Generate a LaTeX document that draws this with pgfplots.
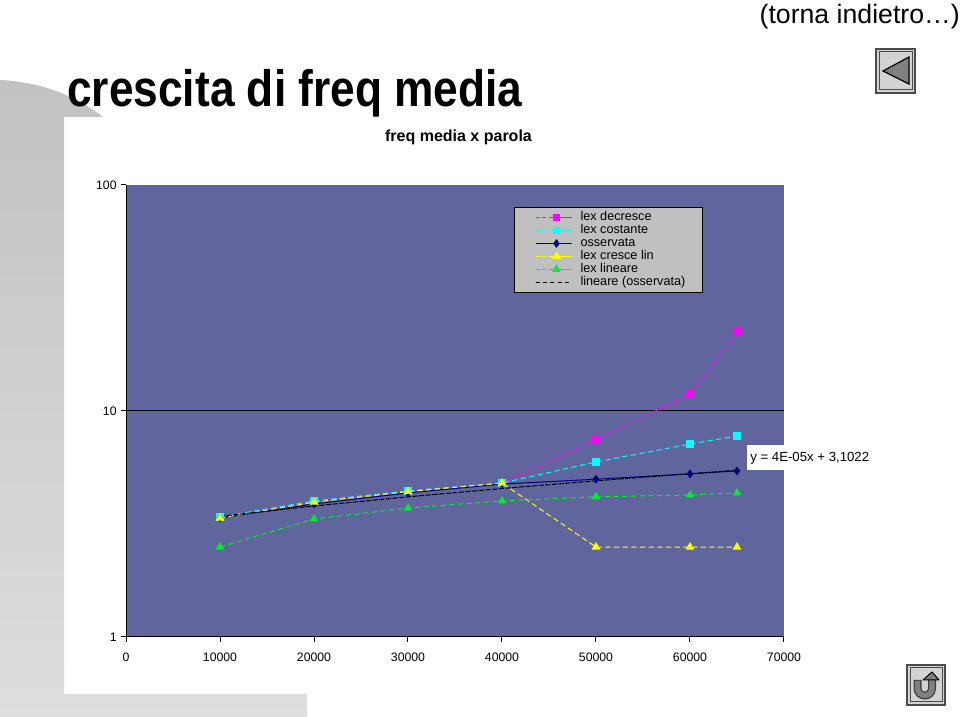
\documentclass[border=0pt]{standalone}
\usepackage{graphicx}
\usepackage{fontspec}
\setmainfont{Liberation Sans}
\usepackage{pgfplots}
\pgfplotsset{compat=1.18}
\definecolor{plotbg}{RGB}{96,101,158}
\definecolor{lgray}{RGB}{192,192,192}
\definecolor{cmag}{RGB}{255,0,255}
\definecolor{ccya}{RGB}{0,255,255}
\definecolor{cnav}{RGB}{0,0,128}
\definecolor{cyel}{RGB}{255,255,0}
\definecolor{cgre}{RGB}{0,235,50}
\pgfplotsset{
  lg/.style={legend image code/.code={
    \path[draw=none] (0pt,0pt)--(36.75pt,0pt);
    \draw[draw=#1,line width=0.85pt,dash pattern=on 3pt off 2pt] (3pt,0pt)--(16pt,0pt);
    \draw[draw=#1,line width=0.85pt,solid] (16pt,0pt)--(30.5pt,0pt);
    \draw[##1,solid,only marks] plot coordinates {(18.75pt,0pt)};
  }},
  lgsolid/.style={legend image code/.code={
    \path[draw=none] (0pt,0pt)--(36.75pt,0pt);
    \draw[draw=#1,line width=0.85pt,solid] (3pt,0pt)--(30.5pt,0pt);
    \draw[##1,solid,only marks] plot coordinates {(18.75pt,0pt)};
  }},
  lgdash/.style={legend image code/.code={
    \path[draw=none] (0pt,0pt)--(36.75pt,0pt);
    \draw[draw=#1,line width=0.75pt,dash pattern=on 3pt off 2.6pt] (3pt,0pt)--(30.5pt,0pt);
  }},
}
\begin{document}
\begin{tikzpicture}
\useasboundingbox (0,0) rectangle (720pt,537.75pt);
\begin{scope}[x=0.75pt,y=-0.75pt,shift={(0pt,537.75pt)}]
\shade[top color=black!24,bottom color=black!13,draw=none]
  (0,80) .. controls (40,82) and (75,95) .. (103,117) -- (64,117) -- (64,694) -- (307,694) -- (307,717) -- (0,717) -- cycle;
\end{scope}
\begin{axis}[
  at={(94.5pt,60pt)}, anchor=south west,
  scale only axis, width=493.5pt, height=339pt,
  ymode=log, xmin=0, xmax=70000, ymin=1, ymax=100,
  axis background/.style={fill=plotbg},
  axis x line*=bottom, axis y line*=left,
  axis line style={black,line width=0.75pt,-},
  tick style={black,line width=0.75pt},
  tick align=outside, major tick length=3.5pt,
  scaled x ticks=false,
  xtick={0,10000,20000,30000,40000,50000,60000,70000},
  xticklabels={0,10000,20000,30000,40000,50000,60000,70000},
  ytick={1,10,100}, yticklabels={1,10,100},
  minor y tick num=0, yminorticks=false,
  extra y ticks={10}, extra y tick labels={},
  extra y tick style={ymajorgrids=true,major grid style={black,line width=0.75pt}},
  tick label style={font=\fontsize{9.2pt}{10pt}\selectfont,/pgf/number format/assume math mode=true},
  xticklabel style={yshift=-5pt},
  clip=false,
  every axis plot/.append style={line width=0.75pt,dash pattern=on 4pt off 2.5pt},
  legend cell align=left,
  legend style={at={(axis description cs:0.5897,0.9513)},anchor=north west,
    fill=lgray,draw=black,line width=0.75pt,
    font=\fontsize{9.5pt}{10.5pt}\selectfont,
    inner xsep=12.75pt,inner ysep=2.6pt,
    nodes={inner sep=0pt,anchor=west,text height=7.25pt,text depth=2.5pt}},
]
\addplot[lg=cmag,color=cmag,mark=square*,mark size=2.5pt,mark options={solid,fill=cmag,draw=cmag}] coordinates {(10000,3.4)(20000,4.0)(30000,4.43)(40000,4.8)(50000,7.44)(60000,11.9)(65000,22.3)};
\addlegendentry{lex decresce}
\addplot[lg=ccya,color=ccya,mark=square*,mark size=2.5pt,mark options={solid,fill=ccya,draw=ccya}] coordinates {(10000,3.4)(20000,4.0)(30000,4.43)(40000,4.8)(50000,5.95)(60000,7.14)(65000,7.75)};
\addlegendentry{lex costante}
\addplot[lgsolid=cnav,color=cnav,solid,mark=diamond*,mark size=2.7pt,mark options={solid,fill=cnav}] coordinates {(10000,3.36)(20000,3.88)(30000,4.34)(40000,4.75)(50000,4.99)(60000,5.27)(65000,5.43)};
\addlegendentry{osservata}
\addplot[lg=cyel,color=cyel,mark=triangle*,mark size=3pt,mark options={solid,fill=cyel,draw=cyel}] coordinates {(10000,3.36)(20000,3.95)(30000,4.4)(40000,4.8)(50000,2.5)(60000,2.5)(65000,2.5)};
\addlegendentry{lex cresce lin}
\addplot[lg=cgre,color=cgre,mark=triangle*,mark size=3pt,mark options={solid,fill=cgre,draw=cgre}] coordinates {(10000,2.5)(20000,3.33)(30000,3.72)(40000,4.0)(50000,4.17)(60000,4.25)(65000,4.34)};
\addlegendentry{lex lineare}
\addplot[lgdash=black,black,mark=none,dash pattern=on 4pt off 1pt] coordinates {(10000,3.42)(20000,3.8)(30000,4.17)(40000,4.54)(50000,4.91)(60000,5.28)(65000,5.47)};
\addlegendentry{lineare (osservata)}
\end{axis}
\begin{scope}[x=0.75pt,y=-0.75pt,shift={(0pt,537.75pt)}]
\fill[white] (747,445) rectangle (784,470);
\node[anchor=base west,inner sep=0pt] at (750,461.5) {\fontsize{9.9pt}{11pt}\selectfont y = 4E-05x + 3,1022};
\node[anchor=base,inner sep=0pt] at (458.5,142) {\fontsize{12pt}{13pt}\selectfont\bfseries freq media x parola};
\node[anchor=base west,inner sep=0pt] at (67,106.5) {\scalebox{0.865}[1]{\fontsize{38.4pt}{42pt}\selectfont\bfseries crescita di freq media}};
\node[anchor=base east,inner sep=0pt] at (960,23.5) {\fontsize{20pt}{22pt}\selectfont (torna indietro…)};
% back button
\fill[lgray!70!white] (875,48) rectangle (916,94);
\draw[black!70,line width=1.5pt] (876,49) rectangle (915,93);
\draw[black!70,line width=0.75pt] (879,52) rectangle (912,90);
\draw[black,fill=black!50,line width=0.9pt] (909,57) -- (909,84) -- (883,71) -- cycle;
% return button
\fill[lgray!70!white] (906,664) rectangle (946,706);
\draw[black!70,line width=1.5pt] (907,665) rectangle (945,705);
\draw[black!70,line width=0.75pt] (910,668) rectangle (942,702);
\draw[black!75,line width=6pt] (917.5,680) -- (917.5,688) .. controls (917.5,698) and (932,698) .. (932,688) -- (932,680);
\draw[black!50,line width=4pt] (917.5,681) -- (917.5,688) .. controls (917.5,698) and (932,698) .. (932,688) -- (932,679);
\draw[black,fill=black!50,line width=0.75pt,line join=round] (923,680) -- (932,672) -- (939,680) -- cycle;
\end{scope}
\end{tikzpicture}
\end{document}
